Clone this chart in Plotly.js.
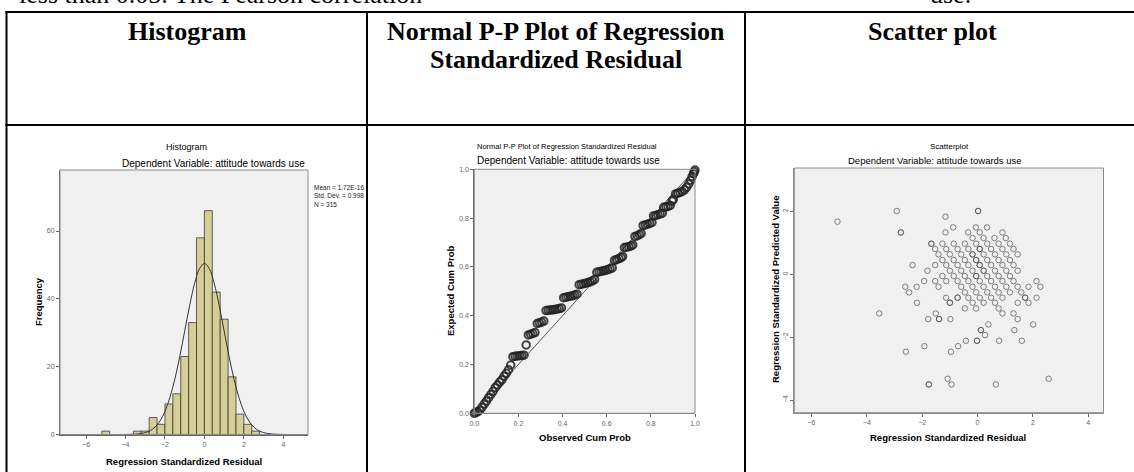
<!DOCTYPE html>
<html><head><meta charset="utf-8">
<script src="https://cdn.plot.ly/plotly-3.0.1.min.js"></script>
<style>html,body{margin:0;padding:0;background:#fff;}#c{width:1134px;height:472px;}</style>
</head><body><div id="c"></div>
<script>
// ---------- DATA ----------
// Histogram (bin width 0.4)
const binCenters = [-5.0, -3.4, -3.0, -2.6, -2.2, -1.8, -1.4, -1.0, -0.6, -0.2, 0.2, 0.6, 1.0, 1.4, 1.8, 2.2, 2.6];
const binCounts  = [1, 1, 1, 5, 3, 9, 12, 23, 33, 58, 66, 42, 34, 17, 6, 3, 1];
const curveX = [-4.2, -3.8, -3.5, -3.2, -3.0, -2.75, -2.5, -2.25, -2.0, -1.75, -1.5, -1.25, -1.0, -0.75, -0.5, -0.25, 0, 0.25, 0.5, 0.75, 1.0, 1.25, 1.5, 1.75, 2.0, 2.25, 2.5, 2.75, 3.0, 3.2, 3.5, 3.8, 4.2];
const curveY = [0.01, 0.04, 0.11, 0.31, 0.56, 1.14, 2.2, 4.0, 6.8, 10.9, 16.3, 23.0, 30.5, 38.0, 44.5, 48.9, 50.4, 48.9, 44.5, 38.0, 30.5, 23.0, 16.3, 10.9, 6.8, 4.0, 2.2, 1.14, 0.56, 0.31, 0.11, 0.04, 0.01];
const statLines = ["Mean = 1.72E-16", "Std. Dev. = 0.998", "N = 315"];
const histXTicks = [-6, -4, -2, 0, 2, 4];
const histYTicks = [0, 20, 40, 60];

// Normal P-P plot
const ppObserved = [0.0,0.005,0.015,0.025,0.035,0.045,0.055,0.065,0.075,0.085,0.095,0.105,0.115,0.125,0.135,0.145,0.155,0.165,
  0.175,0.185,0.195,0.205,0.215,0.225, 0.235,
  0.245,0.255,0.265,0.275, 0.285,0.295,0.305,0.315,
  0.325,0.335,0.345,0.355,0.365,0.375,0.385,0.395,
  0.405,0.415,0.425,0.435,0.445,0.455,0.465,
  0.475,0.485,0.495,0.505,0.515,0.525,0.535,0.545,
  0.555,0.565,0.575,0.585,0.595,0.605,0.615,0.625,
  0.635,0.645,0.655,0.665,0.672, 0.68,0.69,0.70,0.71,0.718,
  0.728,0.738,0.748,0.756, 0.765,0.775,0.785,0.795,0.805,
  0.812,0.822,0.832,0.842,0.852, 0.858,0.868,0.878,0.888, 0.896,0.902,
  0.912,0.922,0.932,0.942, 0.952,0.962,0.972,0.98,0.987,0.993,0.997,1.0];
const ppExpected = [0.0,0.003,0.006,0.013,0.025,0.038,0.05,0.064,0.077,0.09,0.105,0.116,0.128,0.137,0.152,0.164,0.178,0.198,
  0.232,0.234,0.235,0.236,0.237,0.238, 0.28,
  0.321,0.324,0.327,0.331, 0.368,0.371,0.374,0.378,
  0.421,0.422,0.423,0.424,0.425,0.427,0.429,0.432,
  0.474,0.476,0.478,0.480,0.482,0.485,0.488,
  0.527,0.529,0.531,0.533,0.536,0.539,0.543,0.548,
  0.578,0.580,0.582,0.584,0.586,0.589,0.592,0.596,
  0.627,0.630,0.634,0.638,0.643, 0.679,0.681,0.683,0.686,0.690,
  0.725,0.728,0.732,0.737, 0.770,0.772,0.775,0.778,0.782,
  0.809,0.811,0.814,0.817,0.820, 0.844,0.846,0.848,0.852, 0.870,0.877,
  0.899,0.902,0.905,0.909, 0.916,0.926,0.94,0.955,0.97,0.982,0.99,0.997];
const ppRefX = [0, 1];
const ppRefY = [0, 1];
const ppTicks = [0, 0.2, 0.4, 0.6, 0.8, 1.0];

// Scatterplot (residual, predicted); repeated entries are overlapping cases
const residX = [-5.06,-2.92,0.02,0.02,-1.16,-2.77,-2.77,-0.88,-1.16,-0.06,-0.34,0.34,0.08,0.90,
  -0.18,0.22,0.61,1.02,
  -1.67,-1.67,-1.27,-0.86,-0.46,-0.05,0.35,0.76,1.17,
  -1.53,-1.13,-0.72,-0.33,0.08,0.08,0.49,0.90,1.30,
  -1.41,-1.0,-0.59,-0.18,-0.18,0.22,0.63,1.04,1.45,
  -1.27,-0.86,-0.46,-0.05,-0.05,0.35,0.76,1.17,
  -2.35,-1.53,-1.13,-0.72,-0.33,0.08,0.08,0.49,0.90,1.30,
  -1.81,-1.0,-0.59,-0.18,0.22,0.22,0.63,1.04,1.45,
  -1.27,-0.86,-0.46,-0.05,-0.05,0.35,0.76,1.17,
  -1.93,-1.53,-1.13,-0.72,-0.33,0.08,0.49,0.90,1.30,2.13,
  -2.61,-2.20,-1.41,-0.59,-0.18,0.22,0.63,1.04,1.45,1.84,2.27,
  -2.47,-0.46,-0.05,0.35,0.76,1.17,1.58,
  -1.14,-0.72,-0.72,-0.33,0.08,0.49,0.90,1.72,1.72,2.13,
  -2.19,-1.0,-1.0,-0.18,0.22,0.63,1.45,1.84,
  -0.46,-0.05,0.76,
  -3.55,-1.51,0.90,1.30,
  -1.78,-1.39,-1.39,-0.98,1.45,
  0.39,2.01,
  0.12,0.12,1.33,
  0.27,
  -0.42,-0.02,-0.02,0.78,1.60,
  -0.70,-1.92,
  -2.59,-0.96,
  -1.08,2.57,
  -1.76,-1.76,-0.94,0.66];
const predY = [1.68,2.02,2.02,2.02,1.84,1.34,1.34,1.50,1.34,1.50,1.34,1.50,1.34,1.34,
  1.16,1.16,1.16,1.16,
  0.98,0.98,0.98,0.98,0.98,0.98,0.98,0.98,0.98,
  0.81,0.81,0.81,0.81,0.81,0.81,0.81,0.81,0.81,
  0.64,0.64,0.64,0.64,0.64,0.64,0.64,0.64,0.64,
  0.46,0.46,0.46,0.46,0.46,0.46,0.46,0.46,
  0.30,0.30,0.30,0.30,0.30,0.30,0.30,0.30,0.30,0.30,
  0.12,0.12,0.12,0.12,0.12,0.12,0.12,0.12,0.12,
  -0.05,-0.05,-0.05,-0.05,-0.05,-0.05,-0.05,-0.05,
  -0.21,-0.21,-0.21,-0.21,-0.21,-0.21,-0.21,-0.21,-0.21,-0.21,
  -0.39,-0.39,-0.39,-0.39,-0.39,-0.39,-0.39,-0.39,-0.39,-0.39,-0.39,
  -0.57,-0.57,-0.57,-0.57,-0.57,-0.57,-0.57,
  -0.74,-0.74,-0.74,-0.74,-0.74,-0.74,-0.74,-0.74,-0.74,-0.74,
  -0.90,-0.90,-0.90,-0.90,-0.90,-0.90,-0.90,-0.90,
  -1.08,-1.08,-1.08,
  -1.24,-1.24,-1.24,-1.24,
  -1.42,-1.42,-1.42,-1.42,-1.42,
  -1.59,-1.59,
  -1.77,-1.77,-1.77,
  -1.93,
  -2.11,-2.11,-2.11,-2.11,-2.11,
  -2.28,-2.28,
  -2.46,-2.46,
  -3.32,-3.32,
  -3.50,-3.50,-3.50,-3.50];
const scXTicks = [-6, -4, -2, 0, 2, 4];
const scYTicks = [-4, -2, 0, 2];

// ---------- LAYOUT HELPERS ----------
const W = 1134, H = 472;
const px = v => v / W;
const py = v => 1 - v / H;
const SANS = 'Liberation Sans, Arial, sans-serif';
const SERIF = 'Liberation Serif, Times New Roman, serif';

function ann(text, x, y, size, opts) {
  return Object.assign({
    text: text, x: px(x), y: py(y), xref: 'paper', yref: 'paper',
    showarrow: false, xanchor: 'center', yanchor: 'middle',
    font: {family: SANS, size: size, color: '#000'}
  }, opts || {});
}
function hline(x0, x1, y, w) {
  return {type: 'line', xref: 'paper', yref: 'paper', x0: px(x0), x1: px(x1), y0: py(y), y1: py(y), line: {color: '#000', width: w}};
}
function vline(x, y0, y1, w) {
  return {type: 'line', xref: 'paper', yref: 'paper', x0: px(x), x1: px(x), y0: py(y0), y1: py(y1), line: {color: '#000', width: w}};
}
function frame(xa, ya) {
  return {type: 'rect', xref: xa + ' domain', yref: ya + ' domain', x0: 0, x1: 1, y0: 0, y1: 1,
    line: {color: '#8a8a8a', width: 1}, fillcolor: 'rgba(0,0,0,0)', layer: 'above'};
}
function axisBase(extra) {
  return Object.assign({
    ticks: 'outside', ticklen: 3, tickwidth: 1, tickcolor: '#666',
    tickfont: {family: SANS, size: 7, color: '#666'},
    showgrid: false, zeroline: false, showline: true, linecolor: '#666', linewidth: 1,
    fixedrange: true
  }, extra);
}

// ---------- TRACES ----------
const traces = [
  {type: 'bar', x: binCenters, y: binCounts, width: 0.4, xaxis: 'x', yaxis: 'y',
   marker: {color: '#d4cf97', line: {color: '#3a3a3a', width: 0.8}}, hoverinfo: 'skip'},
  {type: 'scatter', mode: 'lines', x: curveX, y: curveY, xaxis: 'x', yaxis: 'y',
   line: {color: '#333', width: 1, shape: 'spline'}, hoverinfo: 'skip'},
  {type: 'scatter', mode: 'lines', x: ppRefX, y: ppRefY, xaxis: 'x2', yaxis: 'y2',
   line: {color: '#555', width: 1}, hoverinfo: 'skip'},
  {type: 'scatter', mode: 'markers', x: ppObserved, y: ppExpected, xaxis: 'x2', yaxis: 'y2',
   marker: {symbol: 'circle-open', size: 7.5, color: 'rgba(35,35,35,0.85)', line: {width: 2}}, hoverinfo: 'skip', cliponaxis: false},
  {type: 'scatter', mode: 'markers', x: residX, y: predY, xaxis: 'x3', yaxis: 'y3',
   marker: {symbol: 'circle-open', size: 5.5, color: 'rgba(80,80,80,0.7)', line: {width: 1}}, hoverinfo: 'skip'}
];

// ---------- LAYOUT ----------
const layout = {
  width: W, height: H, margin: {l: 0, r: 0, t: 0, b: 0, pad: 0},
  paper_bgcolor: '#fff', plot_bgcolor: '#f0f0f0', showlegend: false,
  bargap: 0,
  xaxis: axisBase({domain: [px(60), px(308)], range: [-7.32, 5.25], tickvals: histXTicks, anchor: 'y'}),
  yaxis: axisBase({domain: [py(434.5), py(170)], range: [0, 78], tickvals: histYTicks, anchor: 'x'}),
  xaxis2: axisBase({domain: [px(474.3), px(695)], range: [0, 1], tickvals: ppTicks, tickformat: '.1f', anchor: 'y2'}),
  yaxis2: axisBase({domain: [py(413.3), py(169.3)], range: [0, 1], tickvals: ppTicks, tickformat: '.1f', anchor: 'x2'}),
  xaxis3: axisBase({domain: [px(794.3), px(1103.5)], range: [-6.62, 4.55], tickvals: scXTicks, anchor: 'y3', linecolor: '#8a8a8a'}),
  yaxis3: axisBase({domain: [py(412.7), py(168)], range: [-4.4, 3.39], tickvals: scYTicks, tickangle: -90, anchor: 'x3', linecolor: '#8a8a8a'}),
  shapes: [
    frame('x', 'y'), frame('x2', 'y2'), frame('x3', 'y3'),
    hline(5.5, 1134, 12, 2),
    hline(5.5, 1134, 125, 2),
    vline(6.5, 11, 472, 2),
    vline(367, 11, 472, 2),
    vline(745, 11, 472, 2)
  ],
  annotations: [
    ann('less than 0.05. The Pearson correlation', 17, -5, 26, {xanchor: 'left', font: {family: SERIF, size: 26, color: '#000'}}),
    ann('use.', 928, -5, 26, {xanchor: 'left', font: {family: SERIF, size: 26, color: '#000'}}),
    ann('<b>Histogram</b>', 187, 31, 26, {font: {family: SERIF, size: 26, color: '#000'}}),
    ann('<b>Normal P-P Plot of Regression</b>', 556, 31, 26, {font: {family: SERIF, size: 26, color: '#000'}}),
    ann('<b>Standardized Residual</b>', 556, 59, 26, {font: {family: SERIF, size: 26, color: '#000'}}),
    ann('<b>Scatter plot</b>', 932, 31, 26, {font: {family: SERIF, size: 26, color: '#000'}}),

    ann('Histogram', 186, 147, 9),
    ann('Dependent Variable: attitude towards use', 213, 163, 10),
    ann(statLines.join('<br>'), 312, 196, 6.5, {xanchor: 'left', align: 'left', font: {family: SANS, size: 6.5, color: '#222'}}),
    ann('<b>Frequency</b>', 38, 302, 9.5, {textangle: -90}),
    ann('<b>Regression Standardized Residual</b>', 184, 461, 9.5),

    ann('Normal P-P Plot of Regression Standardized Residual', 567, 147, 7.5),
    ann('Dependent Variable: attitude towards use', 568, 160, 10),
    ann('<b>Expected Cum Prob</b>', 450, 291, 9.5, {textangle: -90}),
    ann('<b>Observed Cum Prob</b>', 585, 437, 9.5),

    ann('Scatterplot', 949, 147, 8),
    ann('Dependent Variable: attitude towards use', 935, 160, 9.5),
    ann('<b>Regression Standardized Predicted Value</b>', 775, 290, 9.5, {textangle: -90}),
    ann('<b>Regression Standardized Residual</b>', 948, 437, 9.5)
  ]
};

Plotly.newPlot('c', traces, layout, {staticPlot: true, displayModeBar: false});
</script>
</body></html>
